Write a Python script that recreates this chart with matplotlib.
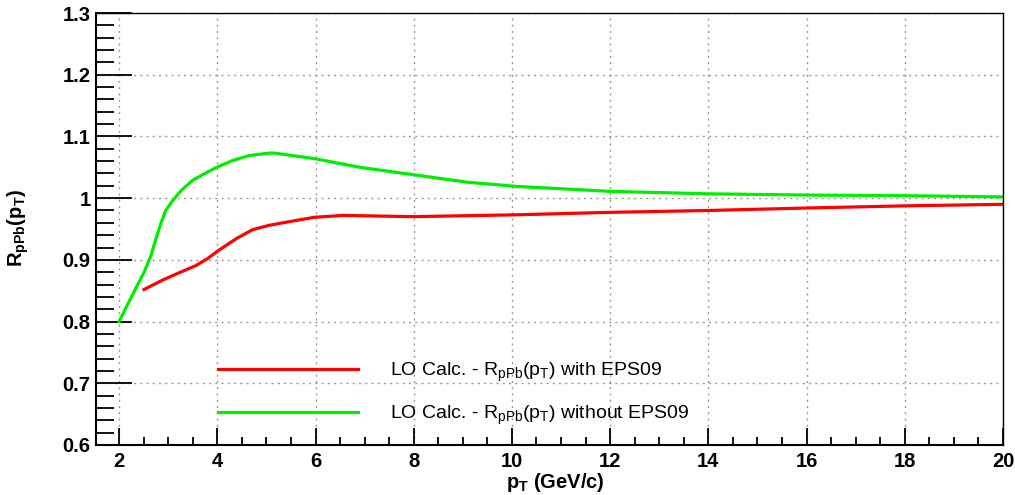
import numpy as np
import matplotlib
matplotlib.use('Agg')
import matplotlib.pyplot as plt
from matplotlib.ticker import MultipleLocator

plt.rcParams['font.family'] = ['Liberation Sans', 'DejaVu Sans']
plt.rcParams['mathtext.fontset'] = 'custom'
plt.rcParams['mathtext.rm'] = 'Liberation Sans'
plt.rcParams['mathtext.it'] = 'Liberation Sans'
plt.rcParams['mathtext.bf'] = 'Liberation Sans:bold'

# R_pPb with EPS09 (red)
pt_eps = [2.51, 2.88, 3.22, 3.57, 3.80, 4.04, 4.38, 4.72, 5.06, 5.40, 5.98, 6.56, 7.99,
          10.09, 12, 14, 16, 18, 20]
r_eps = [0.852, 0.867, 0.879, 0.891, 0.902, 0.916, 0.934, 0.949, 0.956, 0.961, 0.969, 0.972, 0.970,
         0.973, 0.977, 0.980, 0.984, 0.9875, 0.990]

# R_pPb without EPS09 (green)
pt_noeps = [2.0, 2.27, 2.51, 2.65, 2.75, 2.85, 2.95, 3.09, 3.26, 3.50, 3.77, 3.99, 4.31, 4.65,
            5.06, 5.16, 5.98, 6.90, 7.99, 9.07, 10.09, 12, 14, 16, 18, 20]
r_noeps = [0.800, 0.843, 0.880, 0.907, 0.934, 0.959, 0.980, 0.996, 1.012, 1.029, 1.041, 1.050,
           1.061, 1.069, 1.073, 1.073, 1.064, 1.050, 1.038, 1.026, 1.019, 1.011, 1.007, 1.005,
           1.004, 1.002]

fig = plt.figure(figsize=(10.15, 4.95), dpi=100)
ax = fig.add_axes([96 / 1015, 50 / 495, 907 / 1015, 432 / 495])

ax.plot(pt_eps, r_eps, color='#ff0000', lw=2.3, solid_joinstyle='round',
        label=r'LO Calc. - R$_{\mathrm{pPb}}$(p$_{\mathrm{T}}$) with EPS09')
ax.plot(pt_noeps, r_noeps, color='#00ee00', lw=2.3, solid_joinstyle='round',
        label=r'LO Calc. - R$_{\mathrm{pPb}}$(p$_{\mathrm{T}}$) without EPS09')

ax.set_xlim(1.53, 20)
ax.set_ylim(0.6, 1.3)
ax.xaxis.set_major_locator(MultipleLocator(2))
ax.xaxis.set_minor_locator(MultipleLocator(0.5))
ax.yaxis.set_minor_locator(MultipleLocator(0.02))
ax.set_yticks(np.arange(0.6, 1.31, 0.1))
ax.set_yticklabels(['0.6', '0.7', '0.8', '0.9', '1', '1.1', '1.2', '1.3'])

ax.tick_params(axis='both', which='both', direction='in', width=1.3,
               top=False, right=False, labelsize=14.5)
ax.tick_params(axis='x', which='major', length=12, pad=5)
ax.tick_params(axis='x', which='minor', length=6)
ax.tick_params(axis='y', which='major', length=26, pad=4)
ax.tick_params(axis='y', which='minor', length=13)
for lab in ax.get_xticklabels() + ax.get_yticklabels():
    lab.set_fontweight('bold')

ax.grid(True, which='major', linestyle=(0, (1.5, 3)), color='#999999', lw=1)

ax.spines['left'].set_linewidth(1.5)
ax.spines['bottom'].set_linewidth(1.5)
for s in ['top', 'right']:
    ax.spines[s].set_linestyle((0, (3, 1)))
    ax.spines[s].set_linewidth(1.0)

fig.text(555 / 1015, 1 - 482 / 495, r'$\mathbf{p_{T}}$ (GeV/c)', fontsize=14.5,
         fontweight='bold', ha='center', va='center')
fig.text(18 / 1015, 1 - 228 / 495, r'$\mathbf{R_{pPb}(p_{T})}$', fontsize=14.5,
         fontweight='bold', ha='center', va='center', rotation=90)

leg = ax.legend(loc='center left', bbox_to_anchor=(0.1345, 0.119), frameon=False,
                handlelength=7.2, handletextpad=1.65, labelspacing=1.0,
                fontsize=14, borderpad=0, borderaxespad=0)
for line in leg.get_lines():
    line.set_linewidth(2.3)

fig.savefig('out.png', dpi=100)
